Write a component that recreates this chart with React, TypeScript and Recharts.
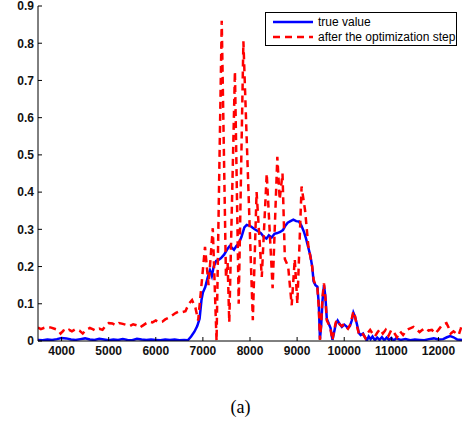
import React from 'react';
import { LineChart, Line, XAxis, YAxis } from 'recharts';

// [x, value]
const trueValuePoints: [number, number][] = [
  [3500, 0.003], [3600, 0.002], [3700, 0.004], [3800, 0.003], [3900, 0.005], [4000, 0.008],
  [4100, 0.007], [4200, 0.004], [4300, 0.003], [4400, 0.005], [4500, 0.007], [4600, 0.004],
  [4700, 0.003], [4800, 0.006], [4900, 0.004], [5000, 0.002], [5100, 0.004], [5200, 0.003],
  [5300, 0.005], [5400, 0.003], [5500, 0.002], [5600, 0.006], [5700, 0.004], [5800, 0.003],
  [5900, 0.004], [6000, 0.003], [6100, 0.002], [6200, 0.004], [6300, 0.003], [6400, 0.004],
  [6500, 0.002], [6600, 0.003], [6680, 0.002], [6750, 0.012], [6820, 0.025], [6880, 0.04],
  [6930, 0.06], [6970, 0.11], [7000, 0.13], [7050, 0.145], [7100, 0.17], [7150, 0.19],
  [7190, 0.175], [7230, 0.2], [7280, 0.215], [7330, 0.218], [7380, 0.222], [7450, 0.232],
  [7510, 0.245], [7570, 0.255], [7620, 0.25], [7660, 0.245], [7710, 0.255], [7760, 0.262],
  [7820, 0.28], [7880, 0.305], [7930, 0.312], [7980, 0.31], [8030, 0.307], [8100, 0.3],
  [8170, 0.295], [8230, 0.29], [8290, 0.28], [8350, 0.275], [8400, 0.284], [8460, 0.278],
  [8520, 0.288], [8580, 0.29], [8640, 0.293], [8700, 0.298], [8750, 0.31], [8800, 0.318],
  [8860, 0.322], [8920, 0.326], [8980, 0.322], [9040, 0.321], [9090, 0.31], [9140, 0.295],
  [9190, 0.275], [9240, 0.25], [9280, 0.23], [9320, 0.2], [9350, 0.16], [9390, 0.15],
  [9430, 0.146], [9460, 0.1], [9485, 0.005], [9510, 0.04], [9540, 0.11], [9570, 0.15],
  [9600, 0.12], [9630, 0.06], [9670, 0.047], [9710, 0.035], [9750, 0.003], [9780, 0.02],
  [9820, 0.045], [9860, 0.055], [9900, 0.046], [9950, 0.038], [10000, 0.044], [10040, 0.04],
  [10080, 0.035], [10120, 0.04], [10160, 0.055], [10195, 0.076], [10230, 0.065], [10270, 0.045],
  [10310, 0.022], [10350, 0.016], [10400, 0.02], [10440, 0.01], [10480, 0.001], [10520, 0.012],
  [10560, 0.005], [10600, 0.012], [10650, 0.002], [10700, 0.009], [10750, 0.003], [10800, 0.01],
  [10850, 0.002], [10900, 0.009], [10950, 0.003], [11000, 0.008], [11050, 0.001], [11100, 0.007],
  [11200, 0.003], [11300, 0.005], [11400, 0.002], [11500, 0.004], [11600, 0.003], [11700, 0.002],
  [11800, 0.005], [11900, 0.007], [12000, 0.004], [12100, 0.005], [12180, 0.01], [12250, 0.013],
  [12320, 0.01], [12400, 0.004], [12500, 0.003],
];

const optimizedPoints: [number, number][] = [
  [3500, 0.036], [3560, 0.032], [3620, 0.035], [3700, 0.038], [3780, 0.036], [3850, 0.033],
  [3920, 0.03], [3980, 0.02], [4040, 0.028], [4100, 0.024], [4160, 0.03], [4220, 0.026],
  [4300, 0.032], [4380, 0.028], [4450, 0.02], [4520, 0.03], [4600, 0.035], [4660, 0.032],
  [4720, 0.028], [4800, 0.033], [4870, 0.03], [4940, 0.042], [5000, 0.048], [5080, 0.047],
  [5150, 0.042], [5220, 0.048], [5300, 0.046], [5380, 0.043], [5450, 0.04], [5520, 0.045],
  [5600, 0.042], [5660, 0.036], [5730, 0.042], [5800, 0.048], [5860, 0.052], [5930, 0.05],
  [6000, 0.055], [6070, 0.05], [6140, 0.052], [6200, 0.058], [6270, 0.062], [6340, 0.068],
  [6420, 0.075], [6500, 0.08], [6570, 0.078], [6630, 0.08], [6700, 0.1], [6770, 0.11],
  [6840, 0.09], [6900, 0.055], [7045, 0.253], [7120, 0.15], [7210, 0.303], [7290, 0.0],
  [7400, 0.86], [7490, 0.17], [7525, 0.21], [7560, 0.05], [7680, 0.724], [7760, 0.1],
  [7860, 0.805], [8060, 0.056], [8140, 0.4], [8250, 0.172], [8355, 0.45], [8480, 0.142],
  [8580, 0.495], [8630, 0.38], [8690, 0.45], [8740, 0.22], [8810, 0.2], [8885, 0.096],
  [8950, 0.22], [9005, 0.1], [9095, 0.415], [9170, 0.35], [9240, 0.253], [9280, 0.228],
  [9320, 0.2], [9350, 0.165], [9390, 0.15], [9430, 0.143], [9460, 0.09], [9485, 0.003],
  [9510, 0.045], [9540, 0.12], [9570, 0.155], [9600, 0.115], [9630, 0.055], [9670, 0.045],
  [9710, 0.03], [9750, 0.002], [9780, 0.025], [9820, 0.05], [9860, 0.057], [9900, 0.045],
  [9950, 0.04], [10000, 0.046], [10040, 0.038], [10080, 0.033], [10120, 0.042], [10160, 0.06],
  [10195, 0.08], [10230, 0.066], [10270, 0.04], [10310, 0.02], [10360, 0.025], [10400, 0.018],
  [10450, 0.008], [10500, 0.022], [10550, 0.03], [10600, 0.02], [10650, 0.012], [10700, 0.022],
  [10760, 0.032], [10820, 0.02], [10880, 0.03], [10940, 0.014], [11000, 0.03], [11060, 0.022],
  [11120, 0.01], [11185, 0.026], [11250, 0.016], [11330, 0.03], [11400, 0.034], [11470, 0.038],
  [11530, 0.032], [11600, 0.024], [11660, 0.03], [11720, 0.035], [11790, 0.028], [11860, 0.03],
  [11930, 0.02], [12000, 0.03], [12060, 0.04], [12120, 0.046], [12170, 0.048], [12220, 0.035],
  [12260, 0.02], [12320, 0.026], [12380, 0.02], [12430, 0.016], [12470, 0.032], [12500, 0.045],
];

const xTicks = [4000, 5000, 6000, 7000, 8000, 9000, 10000, 11000, 12000];
const yTicks = [0, 0.1, 0.2, 0.3, 0.4, 0.5, 0.6, 0.7, 0.8, 0.9];
const seriesNames = ['true value', 'after the optimization step'];

const W = 464;
const H = 424;
const PLOT_LEFT = 38;
const PLOT_BOTTOM = 341;
const FONT = '"Liberation Sans", Arial, sans-serif';

const trueData = trueValuePoints.map(([x, y]) => ({ x, y }));
const optData = optimizedPoints.map(([x, y]) => ({ x, y }));

const XTick = (props: any) => {
  const { x, payload } = props;
  return (
    <g>
      <line x1={x} x2={x} y1={PLOT_BOTTOM} y2={PLOT_BOTTOM - 4} stroke="#000" strokeWidth={1} />
      <text x={x} y={PLOT_BOTTOM + 14} textAnchor="middle" fontFamily={FONT} fontWeight={700} fontSize={12} fill="#111">
        {payload.value}
      </text>
    </g>
  );
};

const YTick = (props: any) => {
  const { y, payload } = props;
  return (
    <g>
      <line x1={PLOT_LEFT} x2={PLOT_LEFT + 4} y1={y} y2={y} stroke="#000" strokeWidth={1} />
      <text x={PLOT_LEFT - 4} y={y + 4.3} textAnchor="end" fontFamily={FONT} fontWeight={700} fontSize={12} fill="#111">
        {String(payload.value)}
      </text>
    </g>
  );
};

export default function App() {
  return (
    <div style={{ position: 'absolute', left: 0, top: 0, width: W, height: H, background: '#fff' }}>
      <LineChart width={W} height={H} margin={{ top: 6, right: 2, left: 0, bottom: 0 }}>
        <XAxis
          type="number"
          dataKey="x"
          domain={[3500, 12500]}
          ticks={xTicks}
          allowDataOverflow
          height={83}
          axisLine={{ stroke: '#000', strokeWidth: 1 }}
          tickLine={false}
          tick={<XTick />}
          interval={0}
        />
        <YAxis
          type="number"
          dataKey="y"
          domain={[0, 0.9]}
          ticks={yTicks}
          allowDataOverflow
          width={38}
          axisLine={{ stroke: '#000', strokeWidth: 1 }}
          tickLine={false}
          tick={<YTick />}
          interval={0}
        />
        <Line
          data={trueData}
          dataKey="y"
          type="linear"
          stroke="#0000ff"
          strokeWidth={2.5}
          dot={false}
          isAnimationActive={false}
        />
        <Line
          data={optData}
          dataKey="y"
          type="linear"
          stroke="#ff0000"
          strokeWidth={2.5}
          strokeDasharray="7 5"
          dot={false}
          isAnimationActive={false}
        />
      </LineChart>

      <div
        style={{
          position: 'absolute',
          left: 265,
          top: 12,
          width: 192,
          height: 34,
          border: '1px solid #000',
          boxSizing: 'border-box',
          background: '#fff',
          overflow: 'hidden',
        }}
      >
        <svg width={192} height={34} style={{ position: 'absolute', left: -1, top: -1 }}>
          <line x1={8} x2={48} y1={10} y2={10} stroke="#0000ff" strokeWidth={2.5} />
          <text x={53} y={14.3} fontFamily={FONT} fontSize={12} fill="#000">{seriesNames[0]}</text>
          <line x1={8} x2={48} y1={25} y2={25} stroke="#ff0000" strokeWidth={2.5} strokeDasharray="7 5" />
          <text x={53} y={29.3} fontFamily={FONT} fontSize={12} fill="#000">{seriesNames[1]}</text>
        </svg>
      </div>

      <svg width={W} height={30} style={{ position: 'absolute', left: 0, top: 394 }}>
        <text x={240.5} y={19} textAnchor="middle" fontFamily='"Liberation Serif", "Times New Roman", serif' fontSize={18} fill="#000">
          (a)
        </text>
      </svg>
    </div>
  );
}
